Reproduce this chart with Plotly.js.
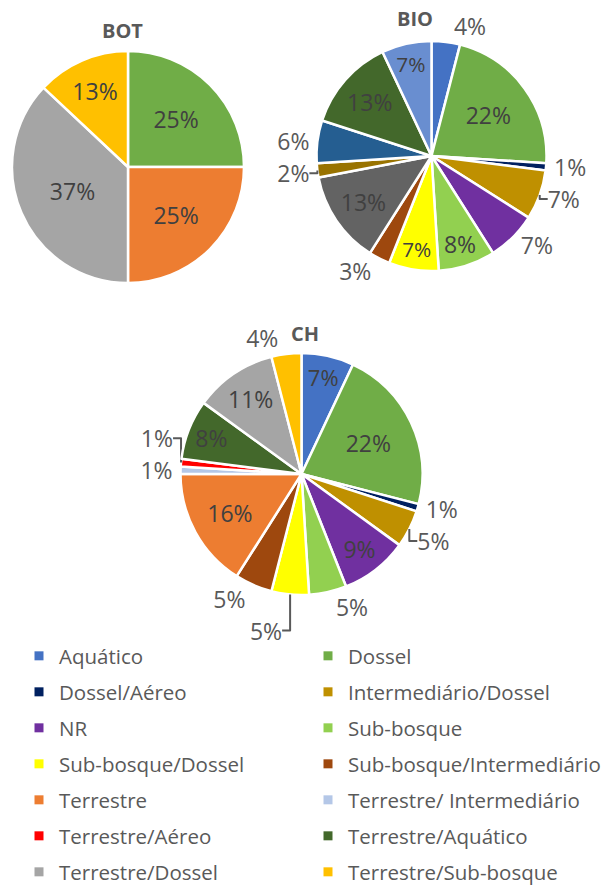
<!DOCTYPE html>
<html>
<head>
<meta charset="utf-8">
<script src="https://cdn.plot.ly/plotly-3.0.1.min.js"></script>
<style>
  html, body { margin: 0; padding: 0; background: #ffffff; overflow: hidden; }
  #chart { width: 603px; height: 885px; }
</style>
</head>
<body>
<div id="chart"></div>
<script>
// ---- Data ----
const categories = [
  'Aquático', 'Dossel', 'Dossel/Aéreo', 'Intermediário/Dossel',
  'NR', 'Sub-bosque', 'Sub-bosque/Dossel', 'Sub-bosque/Intermediário',
  'Terrestre', 'Terrestre/ Intermediário', 'Terrestre/Aéreo', 'Terrestre/Aquático',
  'Terrestre/Dossel', 'Terrestre/Sub-bosque'
];
const categoryColors = [
  '#4472C4', '#70AD47', '#002060', '#BF9000',
  '#7030A0', '#92D050', '#FFFF00', '#9E480E',
  '#ED7D31', '#B4C7E7', '#FF0000', '#43682B',
  '#A5A5A5', '#FFC000'
];

const botLabels = ['Dossel', 'Terrestre', 'Terrestre/Dossel', 'Terrestre/Sub-bosque'];
const botValues = [25, 25, 37, 13];

const bioLabels = [
  'Aquático', 'Dossel', 'Dossel/Aéreo', 'Intermediário/Dossel',
  'NR', 'Sub-bosque', 'Sub-bosque/Dossel', 'Sub-bosque/Intermediário',
  'Terrestre', 'Terrestre/ Intermediário', 'Terrestre/Aquático',
  'Terrestre/Dossel', 'Terrestre/Sub-bosque'
];
const bioValues = [4, 22, 1, 7, 7, 8, 7, 3, 13, 2, 6, 13, 7];
const bioColors = [
  '#4472C4', '#70AD47', '#002060', '#BF9000',
  '#7030A0', '#92D050', '#FFFF00', '#9E480E',
  '#636363', '#997300', '#255E91', '#43682B', '#698ED0'
];
const bioTextPos = ['outside','inside','outside','outside','outside','inside','inside',
                    'outside','inside','outside','outside','inside','inside'];

const chLabels = categories;
const chValues = [7, 22, 1, 5, 9, 5, 5, 5, 16, 1, 1, 8, 11, 4];
const chTextPos = ['inside','inside','outside','outside','inside','outside','outside',
                   'outside','inside','outside','outside','inside','inside','outside'];

// ---- Layout helpers ----
const W = 603, H = 885;
const FONT = 'Open Sans, Liberation Sans, sans-serif';
function dom(cx, cy, r) {
  return { x: [(cx - r) / W, (cx + r) / W], y: [1 - (cy + r) / H, 1 - (cy - r) / H] };
}

function pieTrace(labels, values, colors, domain, textpos) {
  return {
    type: 'pie',
    labels: labels,
    values: values,
    domain: domain,
    sort: false,
    direction: 'clockwise',
    rotation: 0,
    marker: { colors: colors, line: { color: '#ffffff', width: 2.5 } },
    texttemplate: '%{value}%',
    textposition: textpos,
    insidetextorientation: 'horizontal',
    insidetextfont: { family: FONT, size: 23, color: '#404040' },
    outsidetextfont: { family: FONT, size: 23, color: '#595959' },
    showlegend: false,
    hoverinfo: 'label+value'
  };
}

const data = [
  pieTrace(botLabels, botValues, botLabels.map(l => categoryColors[categories.indexOf(l)]),
           dom(128, 167, 116), 'inside'),
  pieTrace(bioLabels, bioValues, bioColors, dom(431.5, 156, 115), bioTextPos),
  pieTrace(chLabels, chValues, categories.map((c, i) => categoryColors[i]),
           dom(301.5, 474, 121), chTextPos)
];

// Legend: one small legend box per entry, laid out in two columns
const rowY = [656, 692, 728, 764, 800, 836, 872];
const colX = [19, 308];
const layout = {
  width: W, height: H,
  margin: { l: 0, r: 0, t: 0, b: 0, autoexpand: false },
  paper_bgcolor: '#ffffff',
  plot_bgcolor: '#ffffff',
  font: { family: FONT, color: '#595959' },
  xaxis: { visible: false, fixedrange: true },
  yaxis: { visible: false, fixedrange: true },
  annotations: [
    { text: '<b>BOT</b>', x: 122 / W, y: 1 - 31 / H },
    { text: '<b>BIO</b>', x: 415 / W, y: 1 - 19 / H },
    { text: '<b>CH</b>', x: 305 / W, y: 1 - 333 / H }
  ].map(a => Object.assign({
    xref: 'paper', yref: 'paper', xanchor: 'center', yanchor: 'middle', showarrow: false,
    font: { family: FONT, size: 20, color: '#595959' }
  }, a))
};

categories.forEach((c, i) => {
  const row = Math.floor(i / 2), col = i % 2;
  const key = i === 0 ? 'legend' : 'legend' + (i + 1);
  data.push({
    type: 'scatter', mode: 'markers',
    x: [null], y: [null],
    name: c,
    legend: key,
    marker: { symbol: 'square', size: 9, color: categoryColors[i] },
    hoverinfo: 'skip'
  });
  layout[key] = {
    orientation: 'h',
    x: colX[col] / W, xanchor: 'left',
    y: 1 - rowY[row] / H, yanchor: 'middle',
    font: { family: FONT, size: 20.5, color: '#595959' },
    bgcolor: 'rgba(0,0,0,0)', borderwidth: 0,
    itemclick: false, itemdoubleclick: false
  };
});

Plotly.newPlot('chart', data, layout, { displayModeBar: false, staticPlot: true });
</script>
</body>
</html>
